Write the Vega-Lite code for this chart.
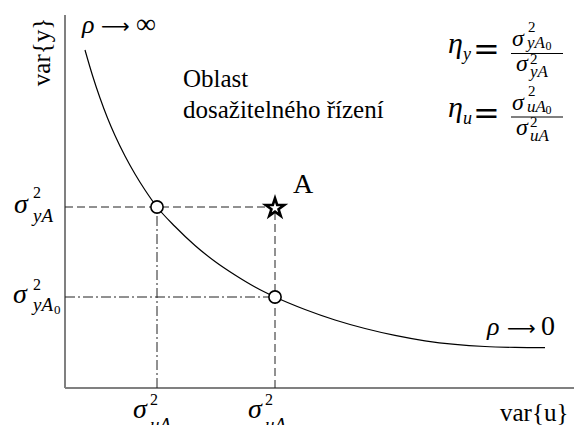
{
  "$schema": "https://vega.github.io/schema/vega-lite/v6.json",
  "width": 574,
  "height": 425,
  "autosize": "none",
  "padding": 0,
  "background": "white",
  "config": {"view": {"stroke": null}},
  "datasets": {
    "curve": [
      {"u": 0.40, "v": 6.76}, {"u": 0.55, "v": 6.25}, {"u": 0.70, "v": 5.80},
      {"u": 0.85, "v": 5.40}, {"u": 1.00, "v": 5.05}, {"u": 1.20, "v": 4.64},
      {"u": 1.40, "v": 4.28}, {"u": 1.60, "v": 3.96}, {"u": 1.84, "v": 3.62},
      {"u": 2.20, "v": 3.23}, {"u": 2.60, "v": 2.85}, {"u": 3.00, "v": 2.53},
      {"u": 3.40, "v": 2.26}, {"u": 3.80, "v": 2.02}, {"u": 4.20, "v": 1.82},
      {"u": 4.80, "v": 1.57}, {"u": 5.40, "v": 1.36}, {"u": 6.00, "v": 1.19},
      {"u": 6.60, "v": 1.052}, {"u": 7.20, "v": 0.944}, {"u": 7.80, "v": 0.872},
      {"u": 8.40, "v": 0.83}, {"u": 9.00, "v": 0.812}, {"u": 9.60, "v": 0.806}
    ],
    "frame": [
      {"u": 0, "v": 0, "u2": 0, "v2": 7.46},
      {"u": 0, "v": 0, "u2": 10.18, "v2": 0}
    ],
    "dashed": [
      {"u": 0, "v": 3.62, "u2": 4.2, "v2": 3.62},
      {"u": 4.2, "v": 0, "u2": 4.2, "v2": 3.62}
    ],
    "dashdot": [
      {"u": 1.84, "v": 0, "u2": 1.84, "v2": 3.62},
      {"u": 0, "v": 1.82, "u2": 4.2, "v2": 1.82}
    ],
    "onCurve": [
      {"name": "A0y", "u": 1.84, "v": 3.62},
      {"name": "A0u", "u": 4.2, "v": 1.82}
    ],
    "stateA": [{"name": "A", "u": 4.2, "v": 3.60}],
    "words": [
      {"text": "Oblast", "u": 2.36, "v": 6.02},
      {"text": "dosažitelného řízení", "u": 2.36, "v": 5.40},
      {"text": "var{u}", "u": 8.70, "v": -0.66}
    ],
    "yTitle": [{"text": "var{y}", "u": -0.30, "v": 6.72}],
    "rho": [
      {"text": "ρ", "u": 0.34, "v": 7.10},
      {"text": "ρ", "u": 8.44, "v": 1.06}
    ],
    "arrows": [
      {"text": "⟶", "u": 0.72, "v": 7.10},
      {"text": "⟶", "u": 8.84, "v": 1.06}
    ],
    "limits": [
      {"text": "∞", "u": 1.42, "v": 7.10},
      {"text": "0", "u": 9.52, "v": 1.06}
    ],
    "letterA": [{"text": "A", "u": 4.56, "v": 3.90}],
    "sigma": [
      {"text": "σ", "u": -1.02, "v": 3.50},
      {"text": "σ", "u": -1.04, "v": 1.70},
      {"text": "σ", "u": 1.36, "v": -0.60},
      {"text": "σ", "u": 3.66, "v": -0.60}
    ],
    "sup": [
      {"text": "2", "u": -0.64, "v": 3.80},
      {"text": "2", "u": -0.64, "v": 1.96},
      {"text": "2", "u": 1.70, "v": -0.34},
      {"text": "2", "u": 4.00, "v": -0.34}
    ],
    "sub": [
      {"text": "yA", "u": -0.64, "v": 3.32},
      {"text": "yA", "u": -0.64, "v": 1.54},
      {"text": "uA", "u": 1.70, "v": -0.86},
      {"text": "uA", "u": 4.00, "v": -0.86}
    ],
    "subZero": [
      {"text": "0", "u": -0.22, "v": 1.48},
      {"text": "0", "u": 2.28, "v": -0.92}
    ],
    "eta": [
      {"text": "η", "u": 7.66, "v": 6.70},
      {"text": "η", "u": 7.66, "v": 5.43}
    ],
    "etaSub": [
      {"text": "y", "u": 7.96, "v": 6.56},
      {"text": "u", "u": 7.96, "v": 5.29}
    ],
    "equals": [
      {"text": "=", "u": 8.16, "v": 6.56},
      {"text": "=", "u": 8.16, "v": 5.29}
    ],
    "fracSigma": [
      {"text": "σ", "u": 8.94, "v": 6.84},
      {"text": "σ", "u": 9.02, "v": 6.34},
      {"text": "σ", "u": 8.94, "v": 5.57},
      {"text": "σ", "u": 9.02, "v": 5.07}
    ],
    "fracSup": [
      {"text": "2", "u": 9.26, "v": 7.12},
      {"text": "2", "u": 9.30, "v": 6.49},
      {"text": "2", "u": 9.26, "v": 5.85},
      {"text": "2", "u": 9.30, "v": 5.22}
    ],
    "fracSub": [
      {"text": "yA", "u": 9.24, "v": 6.80},
      {"text": "yA", "u": 9.30, "v": 6.22},
      {"text": "uA", "u": 9.24, "v": 5.53},
      {"text": "uA", "u": 9.30, "v": 4.95}
    ],
    "fracZero": [
      {"text": "0", "u": 9.61, "v": 6.76},
      {"text": "0", "u": 9.61, "v": 5.49}
    ],
    "fracBar": [
      {"u": 8.92, "u2": 9.96, "v": 6.69},
      {"u": 8.92, "u2": 9.96, "v": 5.42}
    ]
  },
  "encoding": {
    "x": {"field": "u", "type": "quantitative", "scale": {"domain": [-1.3, 10.18], "nice": false, "zero": false}, "axis": null},
    "y": {"field": "v", "type": "quantitative", "scale": {"domain": [-0.74, 7.76], "nice": false, "zero": false}, "axis": null}
  },
  "layer": [
    {
      "data": {"name": "frame"},
      "mark": {"type": "rule", "color": "#808080", "strokeWidth": 2},
      "encoding": {"x2": {"field": "u2"}, "y2": {"field": "v2"}}
    },
    {
      "data": {"name": "dashed"},
      "mark": {"type": "rule", "color": "#222222", "strokeWidth": 1, "strokeDash": [8, 4]},
      "encoding": {"x2": {"field": "u2"}, "y2": {"field": "v2"}}
    },
    {
      "data": {"name": "dashdot"},
      "mark": {"type": "rule", "color": "#222222", "strokeWidth": 1, "strokeDash": [10, 3, 2, 3]},
      "encoding": {"x2": {"field": "u2"}, "y2": {"field": "v2"}}
    },
    {
      "data": {"name": "curve"},
      "mark": {"type": "line", "color": "black", "strokeWidth": 1.2, "interpolate": "monotone"}
    },
    {
      "data": {"name": "onCurve"},
      "mark": {"type": "point", "shape": "circle", "size": 150, "filled": true, "fill": "white", "stroke": "black", "strokeWidth": 1.6, "opacity": 1}
    },
    {
      "data": {"name": "stateA"},
      "mark": {"type": "point", "shape": "M0,-1L0.2245,-0.309L0.951,-0.309L0.3633,0.118L0.5878,0.809L0,0.382L-0.5878,0.809L-0.3633,0.118L-0.951,-0.309L-0.2245,-0.309Z", "size": 380, "filled": true, "fill": "white", "stroke": "black", "strokeWidth": 2.6, "opacity": 1}
    },
    {
      "data": {"name": "fracBar"},
      "mark": {"type": "rule", "color": "black", "strokeWidth": 1},
      "encoding": {"x2": {"field": "u2"}}
    },
    {
      "data": {"name": "words"},
      "mark": {"type": "text", "font": "Liberation Serif", "fontSize": 25, "align": "left", "baseline": "alphabetic", "color": "black"},
      "encoding": {"text": {"field": "text"}}
    },
    {
      "data": {"name": "yTitle"},
      "mark": {"type": "text", "font": "Liberation Serif", "fontSize": 25, "angle": 270, "align": "center", "baseline": "alphabetic", "color": "black"},
      "encoding": {"text": {"field": "text"}}
    },
    {
      "data": {"name": "rho"},
      "mark": {"type": "text", "font": "Liberation Serif", "fontStyle": "italic", "fontSize": 26, "align": "left", "baseline": "alphabetic", "color": "black"},
      "encoding": {"text": {"field": "text"}}
    },
    {
      "data": {"name": "arrows"},
      "mark": {"type": "text", "font": "DejaVu Sans", "fontSize": 20, "align": "left", "baseline": "alphabetic", "color": "black"},
      "encoding": {"text": {"field": "text"}}
    },
    {
      "data": {"name": "limits"},
      "mark": {"type": "text", "font": "Liberation Serif", "fontSize": 28, "align": "left", "baseline": "alphabetic", "color": "black"},
      "encoding": {"text": {"field": "text"}}
    },
    {
      "data": {"name": "letterA"},
      "mark": {"type": "text", "font": "Liberation Serif", "fontSize": 28, "align": "left", "baseline": "alphabetic", "color": "black"},
      "encoding": {"text": {"field": "text"}}
    },
    {
      "data": {"name": "sigma"},
      "mark": {"type": "text", "font": "Liberation Serif", "fontStyle": "italic", "fontSize": 28, "align": "left", "baseline": "alphabetic", "color": "black"},
      "encoding": {"text": {"field": "text"}}
    },
    {
      "data": {"name": "sup"},
      "mark": {"type": "text", "font": "Liberation Serif", "fontSize": 16, "align": "left", "baseline": "alphabetic", "color": "black"},
      "encoding": {"text": {"field": "text"}}
    },
    {
      "data": {"name": "sub"},
      "mark": {"type": "text", "font": "Liberation Serif", "fontStyle": "italic", "fontSize": 19, "align": "left", "baseline": "alphabetic", "color": "black"},
      "encoding": {"text": {"field": "text"}}
    },
    {
      "data": {"name": "subZero"},
      "mark": {"type": "text", "font": "Liberation Serif", "fontSize": 13, "align": "left", "baseline": "alphabetic", "color": "black"},
      "encoding": {"text": {"field": "text"}}
    },
    {
      "data": {"name": "eta"},
      "mark": {"type": "text", "font": "Liberation Serif", "fontStyle": "italic", "fontSize": 30, "align": "left", "baseline": "alphabetic", "color": "black"},
      "encoding": {"text": {"field": "text"}}
    },
    {
      "data": {"name": "etaSub"},
      "mark": {"type": "text", "font": "Liberation Serif", "fontStyle": "italic", "fontSize": 18, "align": "left", "baseline": "alphabetic", "color": "black"},
      "encoding": {"text": {"field": "text"}}
    },
    {
      "data": {"name": "equals"},
      "mark": {"type": "text", "font": "DejaVu Serif", "fontSize": 32, "align": "left", "baseline": "alphabetic", "color": "black"},
      "encoding": {"text": {"field": "text"}}
    },
    {
      "data": {"name": "fracSigma"},
      "mark": {"type": "text", "font": "Liberation Serif", "fontStyle": "italic", "fontSize": 24, "align": "left", "baseline": "alphabetic", "color": "black"},
      "encoding": {"text": {"field": "text"}}
    },
    {
      "data": {"name": "fracSup"},
      "mark": {"type": "text", "font": "Liberation Serif", "fontSize": 15, "align": "left", "baseline": "alphabetic", "color": "black"},
      "encoding": {"text": {"field": "text"}}
    },
    {
      "data": {"name": "fracSub"},
      "mark": {"type": "text", "font": "Liberation Serif", "fontStyle": "italic", "fontSize": 17, "align": "left", "baseline": "alphabetic", "color": "black"},
      "encoding": {"text": {"field": "text"}}
    },
    {
      "data": {"name": "fracZero"},
      "mark": {"type": "text", "font": "Liberation Serif", "fontSize": 12, "align": "left", "baseline": "alphabetic", "color": "black"},
      "encoding": {"text": {"field": "text"}}
    }
  ]
}
